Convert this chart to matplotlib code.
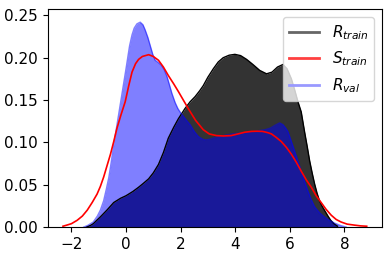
import numpy as np
import matplotlib.pyplot as plt
from matplotlib.lines import Line2D

# density curves
r_train_x = [-1.45, -1.3, -1.2, -1.07, -0.94, -0.7, -0.45, -0.2, 0.0, 0.25, 0.46, 0.65,
             0.83, 1.0, 1.19, 1.37, 1.55, 1.75, 1.92, 2.16, 2.35, 2.53, 2.7, 2.83,
             3.0, 3.2, 3.38, 3.56, 3.78, 3.99, 4.2, 4.42, 4.65, 4.9, 5.15, 5.35,
             5.55, 5.75, 5.9, 6.06, 6.18, 6.3, 6.42, 6.54, 6.64, 6.73, 6.82, 6.91,
             7.0, 7.09, 7.18, 7.27, 7.4, 7.5, 7.62, 7.75]
r_train_y = [0.0, 0.002, 0.004, 0.008, 0.012, 0.020, 0.029, 0.034, 0.037, 0.042, 0.047, 0.052,
             0.057, 0.064, 0.074, 0.088, 0.105, 0.118, 0.128, 0.140, 0.148, 0.154, 0.161, 0.167,
             0.177, 0.187, 0.195, 0.200, 0.203, 0.204, 0.2025, 0.198, 0.192, 0.185, 0.181, 0.183,
             0.189, 0.192, 0.187, 0.175, 0.162, 0.148, 0.136, 0.113, 0.095, 0.078, 0.064, 0.051,
             0.040, 0.031, 0.025, 0.020, 0.013, 0.008, 0.004, 0.001]

r_val_x = [-1.55, -1.4, -1.2, -1.05, -0.94, -0.82, -0.72, -0.63, -0.54, -0.45, -0.33, -0.21,
           -0.1, 0.0, 0.13, 0.22, 0.3, 0.4, 0.52, 0.62, 0.7, 0.8, 0.89, 0.98,
           1.07, 1.2, 1.3, 1.4, 1.5, 1.6, 1.68, 1.8, 1.9, 2.0, 2.1, 2.22,
           2.35, 2.5, 2.65, 2.8, 2.89, 3.05, 3.2, 3.4, 3.56, 3.9, 4.2, 4.6,
           4.9, 5.1, 5.3, 5.45, 5.63, 5.75, 5.85, 5.93, 6.05, 6.18, 6.3, 6.42,
           6.54, 6.66, 6.78, 6.91, 7.09, 7.27, 7.45, 7.64, 7.85, 8.07]
r_val_y = [0.0, 0.002, 0.006, 0.013, 0.020, 0.031, 0.045, 0.0586, 0.077, 0.0975, 0.121, 0.145,
           0.167, 0.187, 0.214, 0.227, 0.235, 0.240, 0.242, 0.239, 0.233, 0.224, 0.214, 0.204,
           0.197, 0.194, 0.191, 0.186, 0.178, 0.167, 0.158, 0.147, 0.140, 0.135, 0.131, 0.126,
           0.121, 0.113, 0.107, 0.104, 0.103, 0.1035, 0.105, 0.107, 0.108, 0.110, 0.111, 0.112,
           0.114, 0.115, 0.117, 0.120, 0.123, 0.121, 0.117, 0.113, 0.102, 0.0897, 0.078, 0.066,
           0.054, 0.043, 0.033, 0.024, 0.017, 0.012, 0.008, 0.0047, 0.002, 0.0]

s_train_x = [-2.31, -2.15, -2.0, -1.79, -1.6, -1.42, -1.24, -1.06, -0.94, -0.82, -0.7, -0.57,
             -0.45, -0.33, -0.18, -0.03, 0.1, 0.22, 0.35, 0.46, 0.6, 0.83, 1.0, 1.19,
             1.37, 1.55, 1.75, 1.92, 2.1, 2.28, 2.55, 2.83, 3.05, 3.32, 3.56, 3.85,
             4.1, 4.35, 4.6, 4.8, 5.0, 5.2, 5.33, 5.5, 5.69, 5.88, 6.06, 6.25,
             6.42, 6.6, 6.79, 6.97, 7.15, 7.33, 7.52, 7.7, 7.88, 8.1, 8.37, 8.6, 8.82]
s_train_y = [0.001, 0.0025, 0.004, 0.008, 0.013, 0.020, 0.029, 0.039, 0.048, 0.059, 0.072, 0.086,
             0.101, 0.117, 0.133, 0.148, 0.167, 0.183, 0.193, 0.198, 0.2015, 0.2036, 0.2015, 0.197,
             0.189, 0.179, 0.169, 0.160, 0.150, 0.140, 0.126, 0.115, 0.110, 0.108, 0.1076, 0.108,
             0.110, 0.112, 0.113, 0.1132, 0.113, 0.1115, 0.110, 0.106, 0.101, 0.094, 0.086, 0.076,
             0.066, 0.056, 0.047, 0.037, 0.029, 0.021, 0.014, 0.009, 0.006, 0.0035, 0.0023, 0.0014, 0.001]

labels = ['$R_{train}$', '$S_{train}$', '$R_{val}$']

fig = plt.figure(figsize=(3.89, 2.56), dpi=100)
ax = fig.add_axes([0.1226, 0.113, 0.8594, 0.850])

ax.fill_between(r_train_x, r_train_y, color='black', alpha=0.8, lw=0)
ax.plot(r_train_x, r_train_y, color='black', lw=1)
ax.fill_between(r_val_x, r_val_y, color='blue', alpha=0.5, lw=0)
ax.plot(r_val_x, r_val_y, color='blue', alpha=0.5, lw=1)
ax.plot(s_train_x, s_train_y, color='red', lw=1.2)

ax.set_xlim(-2.87, 9.38)
ax.set_ylim(0, 0.257)
ax.set_xticks([-2, 0, 2, 4, 6, 8])
ax.set_yticks([0.0, 0.05, 0.10, 0.15, 0.20, 0.25])
ax.tick_params(labelsize=11)

handles = [Line2D([], [], color='#666666', lw=2),
           Line2D([], [], color='#ff4040', lw=2),
           Line2D([], [], color='#9999ff', lw=2)]
ax.legend(handles, labels, loc='upper right', fontsize=11)

plt.savefig('out.png')
